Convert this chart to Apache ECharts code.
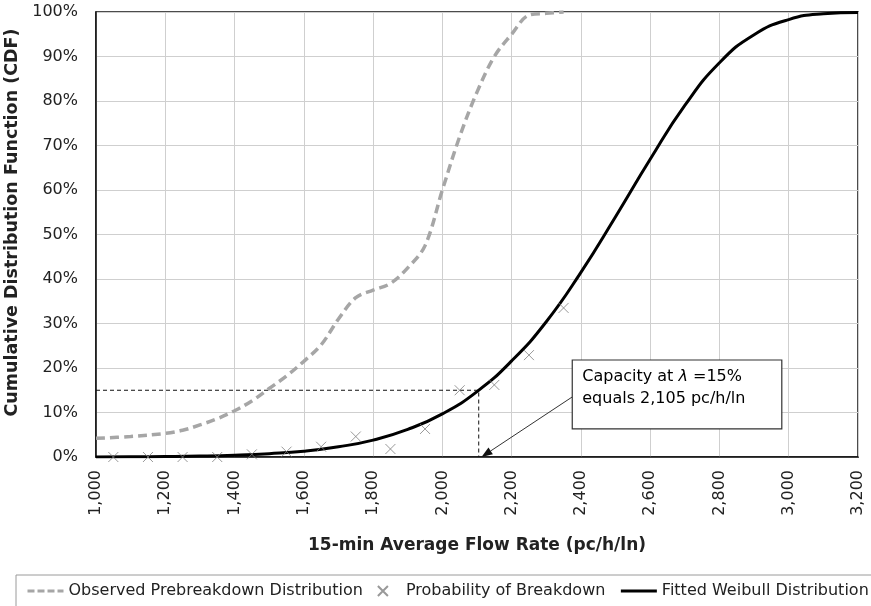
<!DOCTYPE html>
<html>
<head>
<meta charset="utf-8">
<script src="https://cdn.jsdelivr.net/npm/echarts@6/dist/echarts.min.js"></script>
<style>
  html, body { margin: 0; padding: 0; background: #fff; }
  #main { width: 871px; height: 606px; }
</style>
</head>
<body>
<div id="main"></div>
<script>
// observed prebreakdown distribution (flow, percent)
var obsFlow = [1000, 1100, 1200, 1250, 1300, 1350, 1400, 1450, 1500, 1550, 1600, 1650, 1700, 1750, 1800, 1850, 1900, 1950, 2000, 2050, 2100, 2150, 2200, 2250, 2300, 2350];
var obsCdf  = [4.2, 4.6, 5.3, 6.0, 7.2, 8.6, 10.4, 12.6, 15.4, 18.2, 21.5, 25.2, 31.0, 35.8, 37.5, 39.0, 42.5, 47.5, 60.0, 72.0, 82.0, 90.0, 95.0, 99.3, 99.7, 100];

// probability of breakdown markers
var pbFlow = [1050, 1150, 1250, 1350, 1450, 1550, 1650, 1750, 1850, 1950, 2050, 2150, 2250, 2350];
var pbVal  = [0, 0, 0, 0, 0.6, 1.2, 2.3, 4.6, 1.8, 6.3, 15.0, 16.2, 22.9, 33.5];

// fitted weibull curve
var wbFlow = [1000, 1100, 1200, 1300, 1400, 1500, 1600, 1700, 1800, 1900, 2000, 2100, 2200, 2300, 2400, 2500, 2600, 2700, 2800, 2900, 3000, 3100, 3200];
var wbCdf  = [0, 0.05, 0.1, 0.2, 0.4, 0.75, 1.3, 2.3, 3.8, 6.2, 9.7, 14.7, 21.6, 30.4, 41.5, 54.0, 66.9, 79.0, 88.6, 94.9, 98.3, 99.6, 99.9];

// capacity guide (15% -> 2,105)
var capFlow = [1000, 2105, 2105];
var capCdf  = [15, 15, 0];

var FONT = 'DejaVu Sans';

function pairs(xs, ys) {
    var out = [];
    for (var i = 0; i < xs.length; i++) out.push([xs[i], ys[i]]);
    return out;
}

var chart = echarts.init(document.getElementById('main'));

var option = {
    animation: false,
    backgroundColor: '#fff',
    textStyle: { fontFamily: FONT, color: '#222' },
    grid: {
        left: 96, right: 13, top: 12, bottom: 149,
        outerBoundsMode: 'none',
        show: true, borderColor: '#111', borderWidth: 1.5
    },
    legend: {
        left: 16, top: 575, width: 1200,
        data: [
            { name: 'Observed Prebreakdown Distribution', itemStyle: { opacity: 0 }, lineStyle: { width: 3, type: [7, 3] } },
            { name: 'Probability of Breakdown' },
            { name: 'Fitted Weibull Distribution', itemStyle: { opacity: 0 }, lineStyle: { width: 3 } }
        ],
        itemWidth: 36, itemHeight: 10, itemGap: 14,
        padding: [8, 8, 10, 10],
        borderColor: '#9a9a9a', borderWidth: 1,
        textStyle: { fontFamily: FONT, fontSize: 16, color: '#222' }
    },
    xAxis: {
        type: 'value', min: 1000, max: 3200, interval: 200,
        name: '15-min Average Flow Rate (pc/h/ln)',
        nameLocation: 'middle', nameGap: 80,
        nameTextStyle: { fontFamily: FONT, fontSize: 17, fontWeight: 'bold', color: '#222' },
        axisLine: { lineStyle: { color: '#111', width: 1.5 } },
        axisTick: { show: false },
        axisLabel: {
            rotate: 90, fontSize: 16, color: '#222', margin: 13,
            formatter: function (v) { return v.toLocaleString('en-US'); }
        },
        splitLine: { lineStyle: { color: '#cfcfcf', width: 1 } }
    },
    yAxis: {
        type: 'value', min: 0, max: 100, interval: 10,
        name: 'Cumulative Distribution Function (CDF)',
        nameLocation: 'middle', nameGap: 70,
        nameTextStyle: { fontFamily: FONT, fontSize: 17.5, fontWeight: 'bold', color: '#222', padding: [0, 0, 0, 24] },
        axisLine: { show: true, lineStyle: { color: '#111', width: 1.5 } },
        axisTick: { show: false },
        axisLabel: { fontSize: 16, color: '#222', margin: 18, formatter: '{value}%' },
        splitLine: { lineStyle: { color: '#cfcfcf', width: 1 } }
    },
    series: [
        {
            name: 'Observed Prebreakdown Distribution',
            type: 'line', smooth: 0.35, symbol: 'none',
            data: pairs(obsFlow, obsCdf),
            lineStyle: { color: '#a6a6a6', width: 3.5, type: [9, 5] },
            itemStyle: { color: '#a6a6a6' },
            z: 3
        },
        {
            name: 'Capacity guide',
            type: 'line', symbol: 'none',
            data: pairs(capFlow, capCdf),
            lineStyle: { color: '#111', width: 1, type: [4, 3] },
            z: 2
        },
        {
            name: 'Fitted Weibull Distribution',
            type: 'line', smooth: true, symbol: 'none',
            data: pairs(wbFlow, wbCdf),
            lineStyle: { color: '#000', width: 3 },
            itemStyle: { color: '#000' },
            z: 4
        },
        {
            name: 'Probability of Breakdown',
            type: 'scatter',
            symbol: 'path://M0,0L10,10M10,0L0,10',
            symbolSize: 10,
            data: pairs(pbFlow, pbVal),
            itemStyle: { color: 'rgba(0,0,0,0)', borderColor: '#808080', borderWidth: 1 },
            z: 5
        }
    ]
};

chart.setOption(option);

// annotation box and arrow, anchored to data coordinates
var tl = chart.convertToPixel({ gridIndex: 0 }, [2375, 21.8]);
var br = chart.convertToPixel({ gridIndex: 0 }, [2980, 6.3]);
var a0 = chart.convertToPixel({ gridIndex: 0 }, [2375, 13.5]);
var a1 = chart.convertToPixel({ gridIndex: 0 }, [2113, 0]);
var ang = Math.atan2(a1[1] - a0[1], a1[0] - a0[0]);
var headLen = 11, headW = 4;
var base = [a1[0] - headLen * Math.cos(ang), a1[1] - headLen * Math.sin(ang)];
var nx = -Math.sin(ang), ny = Math.cos(ang);

chart.setOption({
    graphic: [{
        type: 'group',
        children: [
            {
                type: 'line',
                shape: { x1: a0[0], y1: a0[1], x2: base[0], y2: base[1] },
                style: { stroke: '#333', lineWidth: 1 },
                z: 19
            },
            {
                type: 'polygon',
                shape: { points: [a1, [base[0] + nx * headW, base[1] + ny * headW], [base[0] - nx * headW, base[1] - ny * headW]] },
                style: { fill: '#111' },
                z: 19
            },
            {
                type: 'rect',
                shape: { x: tl[0], y: tl[1], width: br[0] - tl[0], height: br[1] - tl[1] },
                style: { fill: '#fff', stroke: '#333', lineWidth: 1.2 },
                z: 20
            },
            {
                type: 'text',
                x: tl[0] + 10, y: tl[1] + 6,
                style: {
                    text: '{a|Capacity at }{i|λ}{a| =15%}\n{a|equals 2,105 pc/h/ln}',
                    rich: {
                        a: { fontFamily: FONT, fontSize: 16, color: '#222', lineHeight: 22 },
                        i: { fontFamily: FONT, fontSize: 16, fontStyle: 'italic', color: '#222', lineHeight: 22 }
                    }
                },
                z: 21
            }
        ]
    }]
});
</script>
</body>
</html>
